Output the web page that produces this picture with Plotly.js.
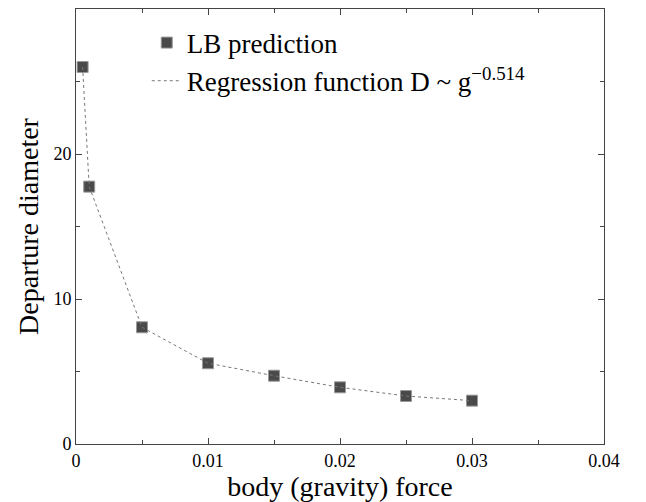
<!DOCTYPE html>
<html>
<head>
<meta charset="utf-8">
<script src="https://cdn.plot.ly/plotly-3.0.1.min.js"></script>
<style>html,body{margin:0;padding:0;background:#fff;}#chart{width:646px;height:502px;}</style>
</head>
<body>
<div id="chart"></div>
<script>
// Data
const gravity = [0.0005, 0.001, 0.005, 0.01, 0.015, 0.02, 0.025, 0.03];
const lbPrediction = [26.0, 17.75, 8.05, 5.57, 4.71, 3.91, 3.31, 2.99];
const regressionY = [26.0, 17.75, 8.05, 5.57, 4.71, 3.91, 3.31, 2.99];
const xTickVals = [0, 0.01, 0.02, 0.03, 0.04];
const xTickText = ['0', '0.01', '0.02', '0.03', '0.04'];
const yTickVals = [0, 10, 20, 30];
const yTickText = ['0', '10', '20', '30'];

const serif = 'Liberation Serif';

const traces = [
  {
    x: gravity, y: lbPrediction, type: 'scatter', mode: 'markers',
    name: 'LB prediction',
    marker: {symbol: 'square', size: 11, color: '#4a4a4a', line: {color: '#9a9a9a', width: 1}}
  },
  {
    x: gravity, y: regressionY, type: 'scatter', mode: 'lines',
    name: 'Regression function D ~ g<sup>\u22120.514</sup>',
    line: {color: '#777', width: 1, dash: 'dot'}
  }
];

function axisCommon() {
  return {
    showgrid: false, zeroline: false, showline: true, linecolor: '#444', linewidth: 1,
    mirror: 'allticks', ticks: 'inside', ticklen: 6, tickcolor: '#444', tickwidth: 1,
    tickfont: {family: serif, size: 18, color: '#000'}
  };
}

const layout = {
  width: 646, height: 502,
  margin: {l: 76, r: 42, t: 9, b: 58},
  paper_bgcolor: '#fff', plot_bgcolor: '#fff',
  font: {family: serif, color: '#000'},
  showlegend: true,
  legend: {
    x: 0.134, y: 0.978, xanchor: 'left', yanchor: 'top',
    bgcolor: 'rgba(0,0,0,0)', borderwidth: 0,
    font: {family: serif, size: 27, color: '#000'},
    tracegroupgap: 0
  },
  xaxis: Object.assign(axisCommon(), {
    range: [0, 0.04], tickvals: xTickVals, ticktext: xTickText,
    minor: {dtick: 0.005, ticks: 'inside', ticklen: 4, tickcolor: '#444'},
    title: {text: 'body (gravity) force', font: {family: serif, size: 28, color: '#000'}, standoff: 4}
  }),
  yaxis: Object.assign(axisCommon(), {
    range: [0, 30], tickvals: yTickVals, ticktext: yTickText,
    minor: {dtick: 5, ticks: 'inside', ticklen: 4, tickcolor: '#444'},
    title: {text: 'Departure diameter', font: {family: serif, size: 28, color: '#000'}, standoff: 6}
  })
};

Plotly.newPlot('chart', traces, layout, {staticPlot: true, displayModeBar: false});
</script>
</body>
</html>
